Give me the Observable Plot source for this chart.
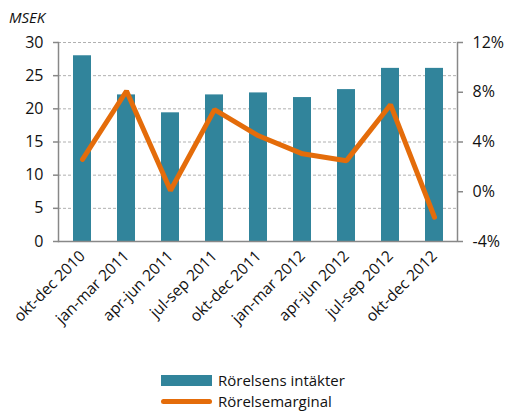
<!DOCTYPE html>
<html><head><meta charset="utf-8">
<script src="https://cdn.jsdelivr.net/npm/d3@7"></script>
<script src="https://cdn.jsdelivr.net/npm/@observablehq/plot@0.6"></script>
<style>
body{margin:0;background:#fff;font-family:"Open Sans",sans-serif;}
#wrap{position:relative;width:506px;height:413px;overflow:hidden;}
#unit{position:absolute;left:9px;top:7px;font-style:italic;font-size:15px;color:#111;}
#legend{position:absolute;left:161px;top:370px;font-size:15px;color:#111;line-height:21px;}
.row{display:flex;align-items:center;height:21px;}
.sw{width:51px;height:11px;background:#31849B;margin-right:6px;}
.ln{width:51px;height:5px;border-radius:3px;background:#E46C0A;margin-right:6px;}
</style></head><body>
<div id="wrap">
<div id="chart"></div>
<div id="unit">MSEK</div>
<div id="legend">
<div class="row"><div class="sw"></div>Rörelsens intäkter</div>
<div class="row"><div class="ln"></div>Rörelsemarginal</div>
</div>
</div>
<script>
const categories = ["okt-dec 2010","jan-mar 2011","apr-jun 2011","jul-sep 2011","okt-dec 2011","jan-mar 2012","apr-jun 2012","jul-sep 2012","okt-dec 2012"];
const intakter = [28.0, 22.1, 19.4, 22.1, 22.4, 21.7, 22.9, 26.1, 26.1];
const marginal = [2.6, 8.1, 0.1, 6.6, 4.5, 3.05, 2.5, 7.0, -2.05];
const leftTicks = [0,5,10,15,20,25,30];
const rightTicks = [-4,0,4,8,12];
const toLeft = v => (v + 4) * 30 / 16;

const bars = categories.map((c,i)=>({c, v: intakter[i]}));
const line = categories.map((c,i)=>({c, v: toLeft(marginal[i])}));

const chart = Plot.plot({
  width: 506, height: 360,
  marginLeft: 58, marginRight: 49, marginTop: 42, marginBottom: 119,
  style: {fontFamily: "Open Sans, sans-serif", fontSize: "16px", color: "#111"},
  x: {domain: categories, padding: 0.6, paddingOuter: 0.3, label: null},
  y: {domain: [0,30], label: null},
  marks: [
    Plot.ruleY(leftTicks.slice(1), {stroke: "#b0b0b0", strokeDasharray: "3,2", strokeWidth: 1}),
    Plot.barY(bars, {x: "c", y: "v", fill: "#31849B"}),
    Plot.frame({anchor: "left", stroke: "#888", strokeWidth: 1.5}),
    Plot.frame({anchor: "right", stroke: "#888", strokeWidth: 1.5}),
    Plot.lineY(line, {x: "c", y: "v", stroke: "#E46C0A", strokeWidth: 5, strokeLinejoin: "miter", curve: "linear"}),
    Plot.axisY(leftTicks, {anchor: "left", tickSize: 5, tickPadding: 10, stroke: "#888", strokeWidth: 1.5, fontSize: 16, label: null}),
    Plot.axisY(rightTicks.map(toLeft), {anchor: "right", tickSize: 5, tickPadding: 10, stroke: "#888", strokeWidth: 1.5, fontSize: 16, label: null, tickFormat: d => Math.round(d*16/30 - 4) + "%"}),
    Plot.axisX({tickSize: 0, tickRotate: -45, tickPadding: 12, fontSize: 15.5, label: null}),
    Plot.ruleY([0], {stroke: "#888", strokeWidth: 1.5})
  ]
});
document.getElementById("chart").appendChild(chart);
</script>
</body></html>
